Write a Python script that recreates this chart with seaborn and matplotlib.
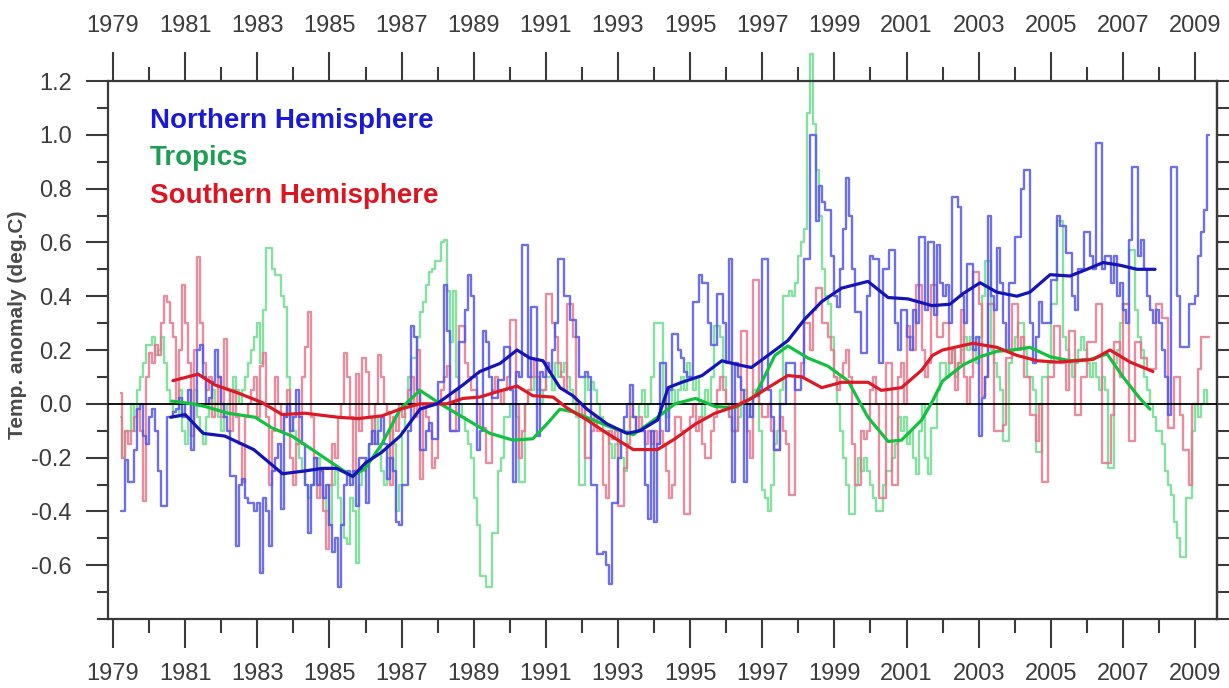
import numpy as np
import pandas as pd
import matplotlib
matplotlib.use("Agg")
import matplotlib.pyplot as plt
import seaborn as sns
from matplotlib.ticker import FixedLocator, FixedFormatter

# Monthly lower-troposphere anomalies (deg C), March 1979 .. May 2009
first_year = 1979
first_month = 3

nh = (
    [-0.40, -0.40, -0.21, -0.29, -0.29, -0.17, -0.02, 0.00, -0.12, -0.15]
    + [-0.05, -0.02, -0.10, -0.25, -0.38, -0.38, -0.05, -0.05, -0.03, -0.02, 0.02, -0.05]
    + [0.00, 0.05, -0.17, 0.00, 0.20, 0.22, 0.10, 0.00, 0.02, 0.08, 0.20, 0.10]
    + [0.00, -0.05, -0.10, -0.27, -0.27, -0.53, -0.30, -0.28, -0.35, -0.37, -0.37, -0.40]
    + [-0.37, -0.63, -0.35, -0.40, -0.53, -0.25, -0.20, -0.15, -0.39, -0.05, 0.00, -0.10]
    + [-0.05, 0.05, -0.05, -0.15, -0.30, -0.48, -0.30, -0.20, -0.30, -0.25, -0.35, -0.30]
    + [-0.45, -0.55, -0.50, -0.68, -0.45, -0.30, -0.25, -0.30, -0.25, -0.38, -0.20, -0.20]
    + [-0.37, -0.15, -0.10, -0.15, -0.10, -0.05, -0.15, -0.28, -0.20, -0.25, -0.44, -0.45]
    + [-0.30, -0.30, -0.10, 0.29, 0.25, 0.05, -0.17, -0.17, -0.10, -0.07, -0.13, -0.13]
    + [0.08, 0.08, 0.44, 0.27, -0.10, -0.10, -0.10, 0.23, 0.23, 0.35, 0.48, 0.40]
    + [0.10, -0.17, -0.10, 0.27, 0.23, 0.10, 0.02, 0.02, 0.09, 0.09, 0.21, 0.21]
    + [0.05, -0.29, 0.12, 0.10, 0.59, 0.59, 0.10, 0.36, 0.36, -0.12, 0.12, 0.10]
    + [0.15, 0.12, 0.20, 0.30, 0.54, 0.54, 0.40, 0.40, 0.31, 0.31, 0.25, 0.10]
    + [0.10, 0.12, 0.10, -0.30, -0.30, -0.56, -0.56, -0.55, -0.60, -0.67, -0.37, -0.37]
    + [-0.20, -0.10, -0.05, 0.00, 0.07, -0.05, -0.10, -0.10, -0.10, -0.30, -0.43, -0.10]
    + [-0.44, -0.15, 0.15, 0.15, -0.10, 0.05, 0.26, 0.26, 0.20, 0.17, 0.12, 0.10]
    + [0.10, 0.38, 0.38, 0.48, 0.45, 0.45, 0.30, 0.22, 0.22, 0.41, 0.41, 0.30]
    + [0.15, 0.54, -0.29, 0.15, 0.10, 0.05, -0.29, 0.00, -0.05, 0.03, 0.03, 0.05]
    + [0.54, 0.54, 0.05, -0.05, -0.17, -0.17, 0.00, 0.00, 0.15, 0.15, 0.15, 0.05]
    + [0.05, 0.10, 0.54, 0.54, 1.00, 1.00, 0.68, 0.81, 0.75, 0.72, 0.72, 0.55]
    + [0.40, 0.36, 0.50, 0.65, 0.84, 0.70, 0.50, 0.34, 0.34, 0.19, 0.19, 0.40]
    + [0.55, 0.54, 0.54, 0.15, 0.50, 0.50, 0.57, 0.57, 0.30, 0.20, 0.35, 0.35]
    + [0.25, 0.20, 0.35, 0.30, 0.62, 0.62, 0.35, 0.60, 0.60, 0.33, 0.59, 0.45]
    + [0.40, 0.44, 0.30, 0.77, 0.77, 0.73, 0.40, 0.30, 0.52, 0.52, 0.20, 0.25]
    + [-0.12, 0.02, 0.10, 0.70, 0.40, 0.35, 0.58, 0.45, 0.30, 0.20, 0.45, 0.45]
    + [0.62, 0.62, 0.80, 0.87, 0.87, 0.30, 0.15, 0.25, 0.38, 0.30, 0.30, 0.30]
    + [0.46, 0.46, 0.70, 0.66, 0.66, 0.56, 0.56, 0.40, 0.35, 0.50, 0.50, 0.64]
    + [0.64, 0.55, 0.50, 0.97, 0.97, 0.50, 0.55, 0.55, 0.45, 0.55, 0.40, 0.45]
    + [0.35, 0.30, 0.61, 0.88, 0.88, 0.55, 0.61, 0.50, 0.40, 0.35, 0.30, 0.35]
    + [0.30, 0.20, 0.10, -0.04, 0.88, 0.88, 0.40, 0.21, 0.21, 0.21, 0.37, 0.37]
    + [0.40, 0.55, 0.64, 0.72, 1.00]
)

tropics = (
    [-0.05, -0.20, -0.10, -0.10, 0.00, -0.10, 0.05, 0.10, 0.15, 0.22]
    + [0.22, 0.25, 0.18, 0.20, 0.25, 0.15, 0.05, 0.00, -0.05, -0.05, 0.05, -0.10]
    + [-0.15, -0.05, 0.00, 0.05, -0.05, -0.10, -0.15, -0.05, 0.00, 0.05, 0.00, -0.05]
    + [-0.10, -0.05, 0.00, 0.05, 0.10, 0.05, 0.00, 0.05, 0.10, 0.15, 0.20, 0.25]
    + [0.30, 0.15, 0.35, 0.58, 0.58, 0.50, 0.48, 0.48, 0.40, 0.36, 0.10, -0.05]
    + [-0.10, -0.15, -0.20, -0.25, -0.30, -0.35, -0.30, -0.25, -0.20, -0.30, -0.35, -0.40]
    + [-0.45, -0.30, -0.25, -0.35, -0.45, -0.50, -0.52, -0.35, -0.40, -0.59, -0.30, -0.25]
    + [-0.20, -0.15, -0.10, -0.05, -0.15, -0.25, -0.30, -0.20, -0.10, -0.15, -0.40, -0.30]
    + [-0.10, 0.00, 0.10, 0.17, 0.17, 0.25, 0.34, 0.38, 0.44, 0.49, 0.50, 0.53]
    + [0.53, 0.60, 0.61, 0.42, 0.23, 0.42, 0.10, 0.00, -0.05, -0.10, -0.15, -0.20]
    + [-0.35, -0.45, -0.64, -0.64, -0.68, -0.68, -0.48, -0.48, -0.25, -0.20, -0.05, -0.05]
    + [0.00, 0.00, -0.05, -0.29, -0.29, 0.00, 0.05, 0.05, 0.10, 0.05, 0.00, 0.05]
    + [0.10, 0.10, 0.05, 0.15, 0.10, 0.12, 0.15, 0.10, 0.05, 0.00, -0.05, -0.30]
    + [-0.30, 0.10, 0.05, 0.08, 0.05, 0.00, -0.05, -0.10, -0.10, -0.15, -0.20, -0.15]
    + [-0.15, -0.20, -0.25, -0.10, -0.05, -0.05, -0.05, 0.00, 0.05, -0.05, 0.00, 0.10]
    + [0.30, 0.30, 0.30, 0.00, -0.05, 0.00, 0.05, 0.00, 0.05, 0.10, 0.05, 0.15]
    + [0.10, 0.05, 0.10, 0.00, -0.05, 0.05, 0.00, 0.10, 0.29, 0.29, 0.25, 0.10]
    + [0.00, -0.05, -0.10, -0.10, -0.05, 0.00, 0.05, -0.05, 0.00, 0.05, 0.05, -0.10]
    + [-0.32, -0.35, -0.40, -0.30, -0.15, -0.10, 0.05, 0.40, 0.40, 0.42, 0.40, 0.45]
    + [0.55, 0.60, 0.65, 1.08, 1.30, 1.04, 0.87, 0.70, 0.50, 0.40, 0.37, 0.25]
    + [0.10, 0.00, -0.10, -0.20, -0.30, -0.41, -0.41, -0.30, -0.20, -0.25, -0.20, -0.25]
    + [-0.30, -0.35, -0.40, -0.40, -0.30, -0.25, -0.25, -0.20, -0.15, -0.05, -0.10, -0.05]
    + [-0.15, -0.10, -0.20, -0.26, -0.10, 0.00, -0.20, -0.26, -0.09, -0.09, 0.05, 0.15]
    + [0.15, 0.10, 0.15, 0.20, 0.10, 0.15, 0.20, 0.25, 0.20, 0.25, 0.20, 0.15]
    + [0.25, 0.40, 0.53, 0.53, 0.20, 0.15, 0.10, 0.05, -0.14, -0.14, 0.15, 0.20]
    + [0.25, 0.30, 0.30, 0.20, 0.10, 0.10, 0.05, -0.18, -0.18, 0.10, 0.10, 0.15]
    + [0.37, 0.37, 0.68, 0.68, 0.25, 0.20, 0.15, 0.10, 0.15, 0.20, 0.25, 0.20]
    + [0.15, 0.10, 0.15, 0.10, 0.05, 0.10, 0.05, -0.24, -0.24, 0.15, 0.20, 0.30]
    + [0.37, 0.37, 0.57, 0.57, 0.35, 0.25, 0.20, 0.10, 0.05, 0.00, -0.05, -0.10]
    + [-0.10, -0.15, -0.25, -0.30, -0.34, -0.44, -0.50, -0.57, -0.57, -0.35, -0.35, -0.10]
    + [0.00, -0.05, 0.00, 0.05, 0.00]
)

sh = (
    [0.04, -0.20, -0.10, -0.15, -0.10, -0.05, -0.02, -0.10, -0.36, 0.10]
    + [0.19, 0.15, 0.22, 0.18, 0.30, 0.40, 0.38, 0.30, 0.25, 0.00, 0.20, 0.44]
    + [0.30, 0.15, -0.12, 0.20, 0.545, 0.30, 0.15, 0.05, 0.10, -0.05, 0.00, 0.10]
    + [-0.05, 0.24, 0.05, -0.10, 0.05, -0.05, -0.15, -0.29, -0.05, 0.00, 0.05, 0.10]
    + [-0.05, 0.14, 0.19, -0.05, -0.30, -0.10, 0.10, 0.00, -0.10, -0.05, 0.05, -0.20]
    + [-0.30, -0.15, -0.05, 0.10, 0.21, 0.34, -0.05, -0.20, -0.35, -0.25, -0.40, -0.54]
    + [-0.30, -0.15, -0.20, -0.05, 0.00, 0.19, 0.10, -0.05, -0.25, 0.11, -0.10, 0.17]
    + [0.12, -0.05, -0.15, 0.00, 0.18, 0.10, 0.00, -0.03, -0.30, -0.05, -0.10, 0.00]
    + [-0.05, 0.00, 0.05, 0.10, -0.05, 0.20, -0.28, 0.00, -0.05, -0.10, -0.24, -0.20]
    + [0.00, 0.05, 0.10, 0.14, -0.10, -0.10, 0.05, 0.29, 0.29, 0.15, 0.10, 0.05]
    + [0.05, 0.00, -0.09, -0.09, -0.22, -0.22, 0.05, 0.10, 0.05, 0.00, 0.05, 0.10]
    + [0.31, 0.31, 0.00, -0.20, -0.10, 0.00, 0.05, 0.10, 0.16, 0.10, 0.05, 0.05]
    + [0.41, 0.41, 0.30, 0.25, 0.15, 0.10, 0.05, 0.37, 0.37, 0.25, 0.00, -0.05]
    + [0.00, -0.20, -0.20, -0.10, -0.05, -0.10, -0.10, -0.30, -0.35, -0.10, -0.13, -0.10]
    + [-0.38, -0.38, -0.24, -0.15, 0.00, -0.05, -0.10, -0.05, -0.10, -0.15, -0.10, -0.15]
    + [-0.10, -0.15, -0.10, -0.15, -0.25, -0.35, -0.30, -0.05, -0.05, -0.10, -0.41, -0.41]
    + [-0.05, 0.00, -0.10, -0.05, -0.15, -0.20, -0.20, -0.10, -0.05, 0.05, 0.10, 0.05]
    + [0.00, -0.05, -0.10, -0.10, 0.00, 0.27, 0.27, -0.10, -0.20, 0.46, 0.46, 0.00]
    + [-0.05, -0.05, 0.00, -0.10, -0.17, -0.17, -0.05, -0.10, -0.15, -0.34, -0.34, 0.10]
    + [0.10, 0.15, 0.30, 0.30, 0.20, 0.35, 0.43, 0.43, 0.30, 0.30, 0.25, 0.20]
    + [0.10, 0.05, 0.10, 0.15, 0.20, 0.10, -0.15, -0.30, -0.30, -0.10, -0.13, -0.10]
    + [0.05, 0.10, 0.00, -0.35, -0.35, 0.15, 0.15, -0.30, -0.30, 0.10, 0.15, 0.00]
    + [0.29, 0.25, 0.20, 0.44, 0.44, 0.20, 0.10, 0.15, 0.44, 0.44, 0.25, 0.25]
    + [0.30, 0.30, 0.15, 0.20, 0.05, 0.15, 0.35, 0.10, 0.00, 0.10, 0.49, 0.49]
    + [0.37, 0.03, 0.10, 0.37, 0.37, -0.10, -0.10, -0.10, -0.08, 0.17, 0.17, 0.37]
    + [0.37, 0.20, 0.25, 0.10, 0.10, -0.04, -0.04, -0.14, 0.00, -0.29, -0.29, 0.10]
    + [0.10, 0.29, 0.29, 0.15, 0.15, 0.05, 0.27, 0.27, -0.04, -0.04, 0.10, 0.10]
    + [0.23, 0.23, 0.23, 0.37, 0.37, -0.22, -0.22, -0.22, -0.04, 0.23, 0.23, 0.10]
    + [0.37, 0.37, -0.14, -0.14, 0.23, 0.23, 0.17, 0.17, 0.13, 0.13, 0.13, 0.37]
    + [0.37, 0.32, 0.32, -0.09, -0.09, 0.10, 0.10, -0.04, -0.17, -0.17, -0.30, 0.00]
    + [0.00, 0.13, 0.25, 0.25, 0.25]
)

# Running means (decimal year, deg C)
nh_smooth_years = [1980.6, 1981.0, 1981.5, 1982.1, 1982.9, 1983.7, 1984.3, 1984.8, 1985.2,
                   1985.65, 1986.0, 1986.45, 1986.96, 1987.51, 1987.98, 1988.7, 1989.17,
                   1989.73, 1990.2, 1990.56, 1990.92, 1991.39, 1991.75, 1992.14, 1992.7,
                   1993.25, 1993.61, 1994.1, 1994.39, 1994.77, 1995.33, 1995.88, 1996.33,
                   1996.7, 1997.16, 1997.71, 1998.18, 1998.65, 1999.2, 1999.93, 2000.49,
                   2001.04, 2001.7, 2002.2, 2002.57, 2003.04, 2003.5, 2004.06, 2004.42,
                   2004.98, 2005.53, 2006.0, 2006.45, 2006.92, 2007.39, 2007.89]
nh_smooth = [-0.05, -0.04, -0.11, -0.12, -0.17, -0.26, -0.25, -0.24, -0.24,
             -0.27, -0.22, -0.18, -0.12, -0.02, 0.00, 0.07, 0.12,
             0.15, 0.20, 0.17, 0.16, 0.06, 0.03, -0.02, -0.075,
             -0.11, -0.10, -0.06, 0.06, 0.08, 0.105, 0.16, 0.145,
             0.135, 0.18, 0.235, 0.315, 0.38, 0.43, 0.455, 0.395,
             0.39, 0.365, 0.37, 0.41, 0.45, 0.415, 0.40, 0.415,
             0.48, 0.475, 0.50, 0.525, 0.515, 0.50, 0.50]

tr_smooth_years = [1980.63, 1981.19, 1981.55, 1982.19, 1982.94, 1983.41, 1983.96, 1984.52,
                   1985.07, 1985.63, 1985.99, 1986.45, 1986.96, 1987.51, 1988.07, 1988.7,
                   1989.45, 1990.09, 1990.64, 1991.03, 1991.39, 1991.75, 1992.31, 1992.86,
                   1993.42, 1993.79, 1994.1, 1994.58, 1995.15, 1995.69, 1996.24, 1996.8,
                   1997.35, 1997.71, 1998.27, 1998.82, 1999.38, 1999.93, 2000.49, 2000.86,
                   2001.42, 2001.72, 2002.0, 2002.57, 2003.04, 2003.5, 2003.95, 2004.42,
                   2004.98, 2005.53, 2006.09, 2006.56, 2007.0, 2007.47, 2007.75]
tr_smooth = [0.01, 0.00, -0.01, -0.035, -0.05, -0.09, -0.12, -0.17,
             -0.22, -0.27, -0.24, -0.15, -0.02, 0.05, 0.00, -0.05,
             -0.11, -0.135, -0.13, -0.075, -0.02, -0.03, -0.06, -0.09,
             -0.115, -0.08, -0.05, 0.00, 0.02, -0.01, -0.015, 0.03,
             0.18, 0.215, 0.17, 0.14, 0.085, -0.05, -0.14, -0.135,
             -0.06, 0.01, 0.085, 0.145, 0.175, 0.195, 0.20, 0.21,
             0.175, 0.16, 0.165, 0.185, 0.10, 0.02, -0.02]

sh_smooth_years = [1980.66, 1981.36, 1981.83, 1982.47, 1983.13, 1983.69, 1984.32, 1985.24,
                   1985.79, 1986.45, 1986.96, 1987.51, 1988.26, 1988.7, 1989.17, 1989.65,
                   1990.2, 1990.64, 1991.2, 1991.58, 1992.14, 1992.7, 1993.42, 1994.1,
                   1994.58, 1995.15, 1995.69, 1996.24, 1996.7, 1997.16, 1997.71, 1998.1,
                   1998.65, 1999.2, 1999.93, 2000.3, 2000.86, 2001.42, 2001.72, 2002.0,
                   2002.84, 2003.5, 2004.06, 2004.62, 2005.17, 2005.73, 2006.17, 2006.64,
                   2007.2, 2007.83]
sh_smooth = [0.086, 0.11, 0.07, 0.04, 0.005, -0.04, -0.035, -0.05,
             -0.055, -0.045, -0.02, 0.00, 0.00, 0.02, 0.025, 0.045,
             0.066, 0.03, 0.025, -0.015, -0.06, -0.11, -0.17, -0.17,
             -0.13, -0.075, -0.035, -0.01, 0.02, 0.06, 0.105, 0.10,
             0.06, 0.08, 0.08, 0.05, 0.06, 0.125, 0.18, 0.20,
             0.225, 0.21, 0.18, 0.16, 0.155, 0.16, 0.165, 0.20,
             0.155, 0.12]

region_names = ["Tropics", "Southern Hemisphere", "Northern Hemisphere"]
step_colors = {"Northern Hemisphere": "#5656e6",
               "Tropics": "#70dc90",
               "Southern Hemisphere": "#e4788e"}
mean_colors = {"Northern Hemisphere": "#1414b8",
               "Tropics": "#14c040",
               "Southern Hemisphere": "#dc1a26"}
label_colors = {"Northern Hemisphere": "#1a1ad4",
                "Tropics": "#1e9e52",
                "Southern Hemisphere": "#dc1620"}

n = len(nh)
assert len(tropics) == n and len(sh) == n
month_pos = (first_year + (first_month - 1) / 12 + (np.arange(n) + 0.5) / 12)

monthly = pd.concat([
    pd.DataFrame({"year": month_pos, "anomaly": tropics, "region": "Tropics"}),
    pd.DataFrame({"year": month_pos, "anomaly": sh, "region": "Southern Hemisphere"}),
    pd.DataFrame({"year": month_pos, "anomaly": nh, "region": "Northern Hemisphere"}),
], ignore_index=True)

means = pd.concat([
    pd.DataFrame({"year": tr_smooth_years, "anomaly": tr_smooth, "region": "Tropics"}),
    pd.DataFrame({"year": sh_smooth_years, "anomaly": sh_smooth, "region": "Southern Hemisphere"}),
    pd.DataFrame({"year": nh_smooth_years, "anomaly": nh_smooth, "region": "Northern Hemisphere"}),
], ignore_index=True)

sns.set_theme(style="white")
plt.rcParams["font.family"] = ["Liberation Sans", "DejaVu Sans"]
plt.rcParams["axes.unicode_minus"] = False
narrow = ["Liberation Sans Narrow", "Liberation Sans", "DejaVu Sans"]

W, H = 1229, 688
fig = plt.figure(figsize=(W / 100, H / 100), dpi=100)
x_left, x_right, y_top, y_bottom = 108, 1217, 81, 619
ax = fig.add_axes([x_left / W, 1 - y_bottom / H, (x_right - x_left) / W, (y_bottom - y_top) / H])

sns.lineplot(data=monthly, x="year", y="anomaly", hue="region", hue_order=region_names,
             palette=step_colors, drawstyle="steps-mid", estimator=None, sort=False,
             linewidth=1.7, alpha=0.85, legend=False, ax=ax, clip_on=False, zorder=2)

ax.axhline(0, color="black", linewidth=1.3, zorder=3)

sns.lineplot(data=means, x="year", y="anomaly", hue="region", hue_order=region_names,
             palette=mean_colors, estimator=None, sort=False, linewidth=2.3,
             legend=False, ax=ax, zorder=4)

ax.set_xlim(1978.861, 2009.607)
ax.set_ylim(-0.8, 1.2)
ax.set_xlabel("")
ax.set_ylabel("")

# x axis: labels on top and bottom, ticks pointing outward
major_years = list(range(1979, 2010, 2))
minor_years = list(range(1980, 2010, 2))
ax.xaxis.set_major_locator(FixedLocator(major_years))
ax.xaxis.set_major_formatter(FixedFormatter([str(y) for y in major_years]))
ax.xaxis.set_minor_locator(FixedLocator(minor_years))
ax.tick_params(axis="x", which="both", direction="out", top=True, bottom=True,
               labeltop=True, labelbottom=True, color="#3a3a3a", width=1.5)
ax.tick_params(axis="x", which="major", length=21, pad=11, labelsize=17,
               labelcolor="#3c3c3c")
ax.tick_params(axis="x", which="minor", length=10)

# y axis: major ticks every 0.2 with labels, minor ticks every 0.1
y_major = [-0.6, -0.4, -0.2, 0.0, 0.2, 0.4, 0.6, 0.8, 1.0, 1.2]
y_minor = [-0.8, -0.7, -0.5, -0.3, -0.1, 0.1, 0.3, 0.5, 0.7, 0.9, 1.1]
ax.yaxis.set_major_locator(FixedLocator(y_major))
ax.yaxis.set_major_formatter(FixedFormatter([f"{v:.1f}" for v in y_major]))
ax.yaxis.set_minor_locator(FixedLocator(y_minor))
ax.tick_params(axis="y", which="both", direction="out", left=True, right=False,
               color="#3a3a3a", width=1.5)
ax.tick_params(axis="y", which="major", length=16, pad=10, labelsize=17,
               labelcolor="#3c3c3c")
ax.tick_params(axis="y", which="minor", length=8)

for lab in ax.get_xticklabels() + ax.get_yticklabels():
    lab.set_fontfamily(narrow)
for tick in ax.xaxis.get_major_ticks():
    tick.label2.set_fontfamily(narrow)

right = ax.secondary_yaxis("right")
right.yaxis.set_major_locator(FixedLocator(np.round(np.arange(-0.8, 1.21, 0.1), 1)))
right.tick_params(axis="y", direction="out", length=9, width=1.5, color="#3a3a3a",
                  labelright=False)
right.spines["right"].set_color("#3a3a3a")
right.spines["right"].set_linewidth(1.6)

for side in ["top", "bottom", "left", "right"]:
    ax.spines[side].set_visible(True)
    ax.spines[side].set_color("#3a3a3a")
    ax.spines[side].set_linewidth(1.6)

fig.text(18 / W, 1 - 325 / H, "Temp. anomaly (deg.C)", rotation=90, ha="center",
         va="center", fontsize=15, fontweight="bold", color="#4a4a4a")

for name, y_pix in [("Northern Hemisphere", 121), ("Tropics", 158),
                    ("Southern Hemisphere", 196)]:
    fig.text(150 / W, 1 - y_pix / H, name, ha="left", va="center", fontsize=20,
             fontweight="bold", color=label_colors[name])

fig.savefig("out.png", dpi=100)
